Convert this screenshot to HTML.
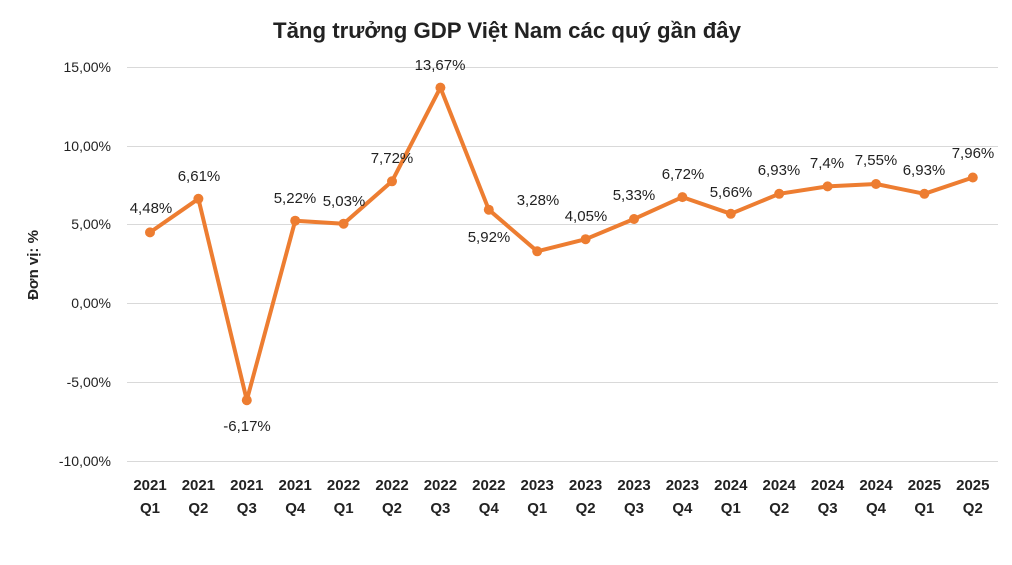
<!DOCTYPE html>
<html><head><meta charset="utf-8"><style>
html,body{margin:0;padding:0;background:#fff;}
svg{display:block;font-family:"Liberation Sans",sans-serif;}
</style></head><body>
<svg width="1012" height="565" viewBox="0 0 1012 565" xmlns="http://www.w3.org/2000/svg">
<rect width="1012" height="565" fill="#fff"/>
<text x="507" y="38" text-anchor="middle" font-size="22" font-weight="bold" fill="#222" textLength="468" lengthAdjust="spacingAndGlyphs">Tăng trưởng GDP Việt Nam các quý gần đây</text>
<g stroke="#d9d9d9" stroke-width="1">
<line x1="127" x2="998" y1="67.5" y2="67.5"/>
<line x1="127" x2="998" y1="146.5" y2="146.5"/>
<line x1="127" x2="998" y1="224.5" y2="224.5"/>
<line x1="127" x2="998" y1="303.5" y2="303.5"/>
<line x1="127" x2="998" y1="382.5" y2="382.5"/>
<line x1="127" x2="998" y1="461.5" y2="461.5"/>
</g>
<g font-size="14" fill="#222" text-anchor="end">
<text x="111" y="72">15,00%</text>
<text x="111" y="151">10,00%</text>
<text x="111" y="229">5,00%</text>
<text x="111" y="308">0,00%</text>
<text x="111" y="387">-5,00%</text>
<text x="111" y="466">-10,00%</text>
</g>
<text transform="translate(38,265) rotate(-90)" text-anchor="middle" font-size="15" font-weight="bold" fill="#222">Đơn vị: %</text>
<g font-size="15" font-weight="bold" fill="#222" text-anchor="middle">
<text x="150" y="490">2021</text><text x="150" y="513">Q1</text>
<text x="198.4" y="490">2021</text><text x="198.4" y="513">Q2</text>
<text x="246.8" y="490">2021</text><text x="246.8" y="513">Q3</text>
<text x="295.2" y="490">2021</text><text x="295.2" y="513">Q4</text>
<text x="343.6" y="490">2022</text><text x="343.6" y="513">Q1</text>
<text x="392" y="490">2022</text><text x="392" y="513">Q2</text>
<text x="440.4" y="490">2022</text><text x="440.4" y="513">Q3</text>
<text x="488.8" y="490">2022</text><text x="488.8" y="513">Q4</text>
<text x="537.2" y="490">2023</text><text x="537.2" y="513">Q1</text>
<text x="585.6" y="490">2023</text><text x="585.6" y="513">Q2</text>
<text x="634" y="490">2023</text><text x="634" y="513">Q3</text>
<text x="682.4" y="490">2023</text><text x="682.4" y="513">Q4</text>
<text x="730.8" y="490">2024</text><text x="730.8" y="513">Q1</text>
<text x="779.2" y="490">2024</text><text x="779.2" y="513">Q2</text>
<text x="827.6" y="490">2024</text><text x="827.6" y="513">Q3</text>
<text x="876" y="490">2024</text><text x="876" y="513">Q4</text>
<text x="924.4" y="490">2025</text><text x="924.4" y="513">Q1</text>
<text x="972.8" y="490">2025</text><text x="972.8" y="513">Q2</text>
</g>
<polyline fill="none" stroke="#ED7D31" stroke-width="4" stroke-linejoin="round" points="150,232.4 198.4,198.8 246.8,400.2 295.2,220.7 343.6,223.7 392,181.3 440.4,87.6 488.8,209.7 537.2,251.3 585.6,239.2 634,219 682.4,197.1 730.8,213.8 779.2,193.8 827.6,186.4 876,184 924.4,193.8 972.8,177.5"/>
<g fill="#ED7D31">
<circle cx="150" cy="232.4" r="5"/><circle cx="198.4" cy="198.8" r="5"/><circle cx="246.8" cy="400.2" r="5"/><circle cx="295.2" cy="220.7" r="5"/><circle cx="343.6" cy="223.7" r="5"/><circle cx="392" cy="181.3" r="5"/><circle cx="440.4" cy="87.6" r="5"/><circle cx="488.8" cy="209.7" r="5"/><circle cx="537.2" cy="251.3" r="5"/><circle cx="585.6" cy="239.2" r="5"/><circle cx="634" cy="219" r="5"/><circle cx="682.4" cy="197.1" r="5"/><circle cx="730.8" cy="213.8" r="5"/><circle cx="779.2" cy="193.8" r="5"/><circle cx="827.6" cy="186.4" r="5"/><circle cx="876" cy="184" r="5"/><circle cx="924.4" cy="193.8" r="5"/><circle cx="972.8" cy="177.5" r="5"/>
</g>
<g font-size="15" fill="#222" text-anchor="middle">
<text x="151" y="213">4,48%</text>
<text x="199" y="181">6,61%</text>
<text x="247" y="431">-6,17%</text>
<text x="295" y="203">5,22%</text>
<text x="344" y="206">5,03%</text>
<text x="392" y="163">7,72%</text>
<text x="440" y="70">13,67%</text>
<text x="489" y="242">5,92%</text>
<text x="538" y="205">3,28%</text>
<text x="586" y="221">4,05%</text>
<text x="634" y="200">5,33%</text>
<text x="683" y="179">6,72%</text>
<text x="731" y="197">5,66%</text>
<text x="779" y="175">6,93%</text>
<text x="827" y="168">7,4%</text>
<text x="876" y="165">7,55%</text>
<text x="924" y="175">6,93%</text>
<text x="973" y="158">7,96%</text>
</g>
</svg>
</body></html>
